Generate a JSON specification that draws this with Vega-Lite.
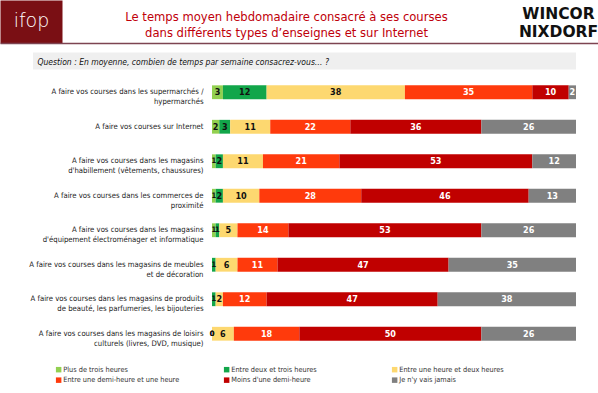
{
  "$schema": "https://vega.github.io/schema/vega-lite/v6.json",
  "width": 598,
  "height": 393,
  "autosize": {"type": "none"},
  "padding": 0,
  "background": "white",
  "config": {"view": {"stroke": null}, "font": "DejaVu Sans Condensed"},
  "datasets": {
    "rows": [
      {"q": "A faire vos courses dans les supermarchés /|hypermarchés", "key": "Plus de trois heures", "value": 3},
      {"q": "A faire vos courses dans les supermarchés /|hypermarchés", "key": "Entre deux et trois heures", "value": 12},
      {"q": "A faire vos courses dans les supermarchés /|hypermarchés", "key": "Entre une heure et deux heures", "value": 38},
      {"q": "A faire vos courses dans les supermarchés /|hypermarchés", "key": "Entre une demi-heure et une heure", "value": 35},
      {"q": "A faire vos courses dans les supermarchés /|hypermarchés", "key": "Moins d'une demi-heure", "value": 10},
      {"q": "A faire vos courses dans les supermarchés /|hypermarchés", "key": "Je n'y vais jamais", "value": 2},
      {"q": "A faire vos courses sur Internet", "key": "Plus de trois heures", "value": 2},
      {"q": "A faire vos courses sur Internet", "key": "Entre deux et trois heures", "value": 3},
      {"q": "A faire vos courses sur Internet", "key": "Entre une heure et deux heures", "value": 11},
      {"q": "A faire vos courses sur Internet", "key": "Entre une demi-heure et une heure", "value": 22},
      {"q": "A faire vos courses sur Internet", "key": "Moins d'une demi-heure", "value": 36},
      {"q": "A faire vos courses sur Internet", "key": "Je n'y vais jamais", "value": 26},
      {"q": "A faire vos courses dans les magasins|d'habillement (vêtements, chaussures)", "key": "Plus de trois heures", "value": 1},
      {"q": "A faire vos courses dans les magasins|d'habillement (vêtements, chaussures)", "key": "Entre deux et trois heures", "value": 2},
      {"q": "A faire vos courses dans les magasins|d'habillement (vêtements, chaussures)", "key": "Entre une heure et deux heures", "value": 11},
      {"q": "A faire vos courses dans les magasins|d'habillement (vêtements, chaussures)", "key": "Entre une demi-heure et une heure", "value": 21},
      {"q": "A faire vos courses dans les magasins|d'habillement (vêtements, chaussures)", "key": "Moins d'une demi-heure", "value": 53},
      {"q": "A faire vos courses dans les magasins|d'habillement (vêtements, chaussures)", "key": "Je n'y vais jamais", "value": 12},
      {"q": "A faire vos courses dans les commerces de|proximité", "key": "Plus de trois heures", "value": 1},
      {"q": "A faire vos courses dans les commerces de|proximité", "key": "Entre deux et trois heures", "value": 2},
      {"q": "A faire vos courses dans les commerces de|proximité", "key": "Entre une heure et deux heures", "value": 10},
      {"q": "A faire vos courses dans les commerces de|proximité", "key": "Entre une demi-heure et une heure", "value": 28},
      {"q": "A faire vos courses dans les commerces de|proximité", "key": "Moins d'une demi-heure", "value": 46},
      {"q": "A faire vos courses dans les commerces de|proximité", "key": "Je n'y vais jamais", "value": 13},
      {"q": "A faire vos courses dans les magasins|d'équipement électroménager et informatique", "key": "Plus de trois heures", "value": 1},
      {"q": "A faire vos courses dans les magasins|d'équipement électroménager et informatique", "key": "Entre deux et trois heures", "value": 1},
      {"q": "A faire vos courses dans les magasins|d'équipement électroménager et informatique", "key": "Entre une heure et deux heures", "value": 5},
      {"q": "A faire vos courses dans les magasins|d'équipement électroménager et informatique", "key": "Entre une demi-heure et une heure", "value": 14},
      {"q": "A faire vos courses dans les magasins|d'équipement électroménager et informatique", "key": "Moins d'une demi-heure", "value": 53},
      {"q": "A faire vos courses dans les magasins|d'équipement électroménager et informatique", "key": "Je n'y vais jamais", "value": 26},
      {"q": "A faire vos courses dans les magasins de meubles|et de décoration", "key": "Plus de trois heures", "value": 0},
      {"q": "A faire vos courses dans les magasins de meubles|et de décoration", "key": "Entre deux et trois heures", "value": 1},
      {"q": "A faire vos courses dans les magasins de meubles|et de décoration", "key": "Entre une heure et deux heures", "value": 6},
      {"q": "A faire vos courses dans les magasins de meubles|et de décoration", "key": "Entre une demi-heure et une heure", "value": 11},
      {"q": "A faire vos courses dans les magasins de meubles|et de décoration", "key": "Moins d'une demi-heure", "value": 47},
      {"q": "A faire vos courses dans les magasins de meubles|et de décoration", "key": "Je n'y vais jamais", "value": 35},
      {"q": "A faire vos courses dans les magasins de produits|de beauté, les parfumeries, les bijouteries", "key": "Plus de trois heures", "value": 0},
      {"q": "A faire vos courses dans les magasins de produits|de beauté, les parfumeries, les bijouteries", "key": "Entre deux et trois heures", "value": 1},
      {"q": "A faire vos courses dans les magasins de produits|de beauté, les parfumeries, les bijouteries", "key": "Entre une heure et deux heures", "value": 2},
      {"q": "A faire vos courses dans les magasins de produits|de beauté, les parfumeries, les bijouteries", "key": "Entre une demi-heure et une heure", "value": 12},
      {"q": "A faire vos courses dans les magasins de produits|de beauté, les parfumeries, les bijouteries", "key": "Moins d'une demi-heure", "value": 47},
      {"q": "A faire vos courses dans les magasins de produits|de beauté, les parfumeries, les bijouteries", "key": "Je n'y vais jamais", "value": 38},
      {"q": "A faire vos courses dans les magasins de loisirs|culturels (livres, DVD, musique)", "key": "Plus de trois heures", "value": 0},
      {"q": "A faire vos courses dans les magasins de loisirs|culturels (livres, DVD, musique)", "key": "Entre deux et trois heures", "value": 0},
      {"q": "A faire vos courses dans les magasins de loisirs|culturels (livres, DVD, musique)", "key": "Entre une heure et deux heures", "value": 6},
      {"q": "A faire vos courses dans les magasins de loisirs|culturels (livres, DVD, musique)", "key": "Entre une demi-heure et une heure", "value": 18},
      {"q": "A faire vos courses dans les magasins de loisirs|culturels (livres, DVD, musique)", "key": "Moins d'une demi-heure", "value": 50},
      {"q": "A faire vos courses dans les magasins de loisirs|culturels (livres, DVD, musique)", "key": "Je n'y vais jamais", "value": 26}
    ]
  },
  "data": {"name": "rows"},
  "transform": [
    {"stack": "value", "groupby": ["q"], "as": ["v0", "v1"]},
    {"calculate": "(datum.v0 + datum.v1) / 2", "as": "mid"}
  ],
  "encoding": {
    "y": {
      "field": "q", "type": "nominal", "sort": null,
      "scale": {"range": [75, 351], "paddingInner": 0.6, "paddingOuter": 0.3, "align": 0.5},
      "axis": {
        "orient": "left", "offset": -206, "ticks": false, "domain": false, "grid": false,
        "labelPadding": 3, "labelExpr": "split(datum.label, '|')",
        "labelFontSize": 7.7, "labelFont": "DejaVu Sans Condensed", "labelColor": "#222",
        "labelLineHeight": 9.8, "labelLimit": 300, "labelAlign": "right", "labelBaseline": "middle",
        "title": "Question : En moyenne, combien de temps par semaine consacrez-vous… ?",
        "titleAngle": 0, "titleAlign": "left", "titleBaseline": "middle",
        "titleX": -169, "titleY": 61, "titleFontStyle": "italic", "titleFontWeight": "normal",
        "titleFontSize": 8.5, "titleFont": "DejaVu Sans Condensed", "titleColor": "#111", "zindex": 1
      }
    }
  },
  "layer": [
    {
      "mark": {"type": "bar"},
      "encoding": {
        "x": {
          "field": "v0", "type": "quantitative",
          "scale": {"domain": [-58.242, 106.044], "nice": false, "zero": false},
          "axis": {
            "orient": "top", "offset": -43, "values": [-49.73],
            "ticks": true, "tickSize": 43, "tickWidth": 62, "tickColor": "#7a0f14",
            "domain": true, "domainColor": "#7d4451", "domainWidth": 1.5, "grid": false,
            "labels": true, "labelExpr": "'ifop'", "labelColor": "white", "labelFontSize": 19,
            "labelFont": "DejaVu Sans", "labelFontWeight": 200, "labelPadding": -30,
            "labelFlush": false, "labelOverlap": false,
            "title": ["WINCOR", "NIXDORF"], "titleX": 558, "titleY": -37, "titleBaseline": "top",
            "titleAlign": "center", "titleAngle": 0, "titleFont": "DejaVu Sans", "titleFontWeight": "bold",
            "titleFontSize": 15.5, "titleLineHeight": 18, "titleColor": "#111", "zindex": 0
          }
        },
        "x2": {"field": "v1"},
        "color": {
          "field": "key", "type": "nominal",
          "scale": {
            "domain": ["Plus de trois heures", "Entre deux et trois heures", "Entre une heure et deux heures", "Entre une demi-heure et une heure", "Moins d'une demi-heure", "Je n'y vais jamais"],
            "range": ["#92d050", "#12a64a", "#fdd870", "#ff3a0c", "#c00000", "#808080"]
          },
          "legend": {
            "orient": "none", "legendX": 55, "legendY": 366, "direction": "horizontal", "columns": 3,
            "title": null, "symbolType": "square", "symbolSize": 30, "symbolStrokeWidth": 0,
            "labelFontSize": 7.3, "labelFont": "DejaVu Sans Condensed", "labelColor": "#333",
            "columnPadding": 43, "rowPadding": 2.5, "gridAlign": "all", "labelOffset": 1, "labelLimit": 250
          }
        }
      }
    },
    {
      "transform": [{"filter": "datum.value > 0 || indexof(datum.q, 'loisirs') >= 0"}],
      "mark": {"type": "text", "fontWeight": "bold", "font": "DejaVu Sans Condensed", "baseline": "middle", "align": "center"},
      "encoding": {
        "x": {
          "field": "mid", "type": "quantitative",
          "scale": {"domain": [-58.242, 106.044], "nice": false, "zero": false},
          "axis": {
            "orient": "bottom", "offset": -341, "values": [25.14],
            "ticks": true, "tickSize": 17, "tickWidth": 543, "tickColor": "#efefef",
            "domain": false, "labels": false, "grid": false,
            "title": ["Le temps moyen hebdomadaire consacré à ses courses", "dans différents types d’enseignes et sur Internet"],
            "titleX": 286, "titleY": -42, "titleBaseline": "top", "titleAlign": "center", "titleAngle": 0,
            "titleFont": "DejaVu Sans Condensed", "titleFontWeight": "normal", "titleFontSize": 12.9,
            "titleLineHeight": 16, "titleColor": "#c0000a", "zindex": 0
          }
        },
        "text": {"field": "value", "type": "quantitative"},
        "size": {"condition": {"test": "datum.value <= 1", "value": 7.5}, "value": 9},
        "color": {
          "condition": {"test": "indexof(['Plus de trois heures','Entre deux et trois heures','Entre une heure et deux heures'], datum.key) < 0", "value": "white"},
          "value": "#111"
        }
      }
    }
  ],
  "resolve": {"axis": {"x": "independent"}}
}
